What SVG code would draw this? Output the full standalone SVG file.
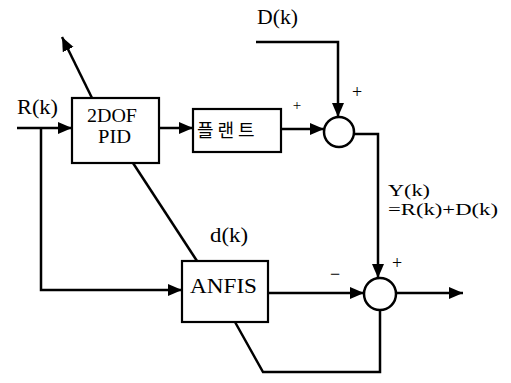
<svg xmlns="http://www.w3.org/2000/svg" width="511" height="383" viewBox="0 0 511 383">
<defs>
<marker id="arr" markerUnits="userSpaceOnUse" markerWidth="16" markerHeight="14" refX="14" refY="6" orient="auto">
<path d="M0,0 L14,6 L0,12 z" fill="#000"/>
</marker>
<style>
.box{fill:#fff;stroke:#000;stroke-width:2.2}
.sum{fill:#fff;stroke:#000;stroke-width:2.5}
.ln{fill:none;stroke:#000;stroke-width:2.5}
text.t{font-family:'Liberation Serif',serif;fill:#000}
text.k{font-family:'Noto Sans CJK KR',sans-serif;fill:#000}
</style>
</defs>
<rect width="511" height="383" fill="#fff"/>
<g id="connectors">
<path class="ln" d="M17,128 H72" marker-end="url(#arr)"/>
<path class="ln" d="M41,128 V290 H182" marker-end="url(#arr)"/>
<path class="ln" d="M159,128 H193" marker-end="url(#arr)"/>
<path class="ln" d="M281,129 H324" marker-end="url(#arr)"/>
<path class="ln" d="M256,42 H338 V117" marker-end="url(#arr)"/>
<path class="ln" d="M354,134 H378 V278" marker-end="url(#arr)"/>
<path class="ln" d="M268,293 H364" marker-end="url(#arr)"/>
<path class="ln" d="M396,293 H463" marker-end="url(#arr)"/>
<path class="ln" d="M380,310 V372 H263 L235,322"/>
<path class="ln" d="M133,163 L197,261"/>
<path class="ln" d="M92,98 L62,37" marker-end="url(#arr)"/>
</g>
<g id="pid">
<rect class="box" x="72" y="98" width="87" height="65"/>
<text class="t" font-family="Liberation Serif" x="87" y="122" font-size="18" textLength="50" lengthAdjust="spacingAndGlyphs">2DOF</text>
<text class="t" font-family="Liberation Serif" x="98" y="143" font-size="18" textLength="33" lengthAdjust="spacingAndGlyphs">PID</text>
</g>
<g id="plant">
<rect class="box" x="193" y="109" width="88" height="43"/>
<text class="k" x="197" y="137" font-size="18" letter-spacing="4">플랜트</text>
</g>
<g id="anfis">
<rect class="box" x="182" y="261" width="86" height="61"/>
<text class="t" font-family="Liberation Serif" x="190" y="293" font-size="21" textLength="67" lengthAdjust="spacingAndGlyphs">ANFIS</text>
</g>
<g id="sum1">
<circle class="sum" cx="339" cy="132" r="15"/>
</g>
<g id="sum2">
<circle class="sum" cx="380" cy="294" r="16"/>
</g>
<g id="labels">
<text class="t" font-family="Liberation Serif" x="17" y="114" font-size="20" textLength="41" lengthAdjust="spacingAndGlyphs">R(k)</text>
<text class="t" font-family="Liberation Serif" x="257" y="24" font-size="20" textLength="41" lengthAdjust="spacingAndGlyphs">D(k)</text>
<text class="t" font-family="Liberation Serif" x="210" y="242" font-size="20" textLength="38" lengthAdjust="spacingAndGlyphs">d(k)</text>
<text class="t" font-family="Liberation Serif" x="388" y="196" font-size="17" textLength="42" lengthAdjust="spacingAndGlyphs">Y(k)</text>
<text class="t" font-family="Liberation Serif" x="388" y="215" font-size="17" textLength="110" lengthAdjust="spacingAndGlyphs">=R(k)+D(k)</text>
<text class="t" font-family="Liberation Serif" x="357" y="98" font-size="18" text-anchor="middle">+</text>
<text class="t" font-family="Liberation Serif" x="297" y="110" font-size="15" text-anchor="middle">+</text>
<text class="t" font-family="Liberation Serif" x="397" y="269" font-size="18" text-anchor="middle">+</text>
<text class="t" font-family="Liberation Serif" x="335" y="280" font-size="18" text-anchor="middle">−</text>
</g>
</svg>
